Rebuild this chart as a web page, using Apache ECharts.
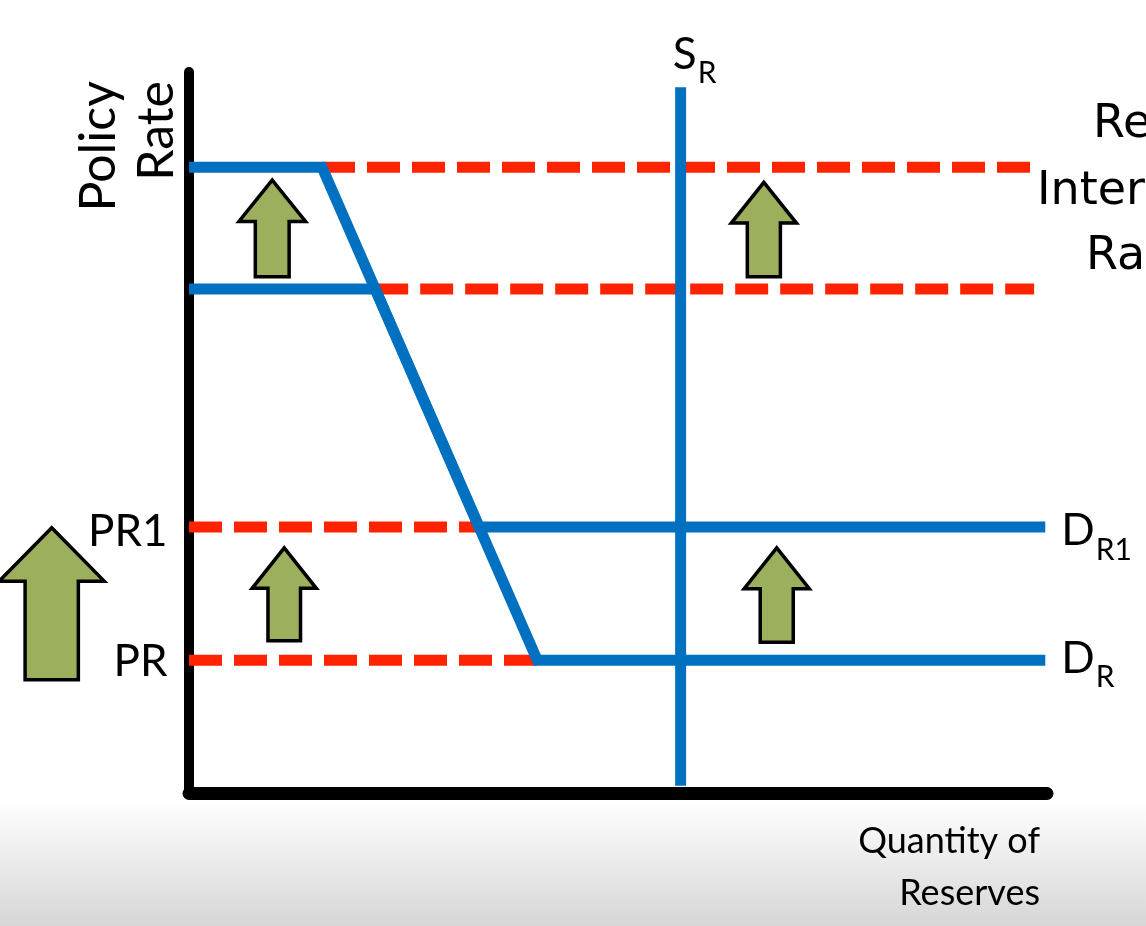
<!DOCTYPE html>
<html><head><meta charset="utf-8">
<script src="https://cdn.jsdelivr.net/npm/echarts@6/dist/echarts.min.js"></script>
<style>html,body{margin:0;padding:0;background:#fff}#c{width:1146px;height:926px}</style>
</head><body><div id="c"></div>
<script>
// ---- data (chart units: x = quantity of reserves 0..10, y = policy rate 0..10) ----
const demandR1 = [[0, 8.68], [1.55, 8.68], [3.38, 3.69], [9.98, 3.69]];
const demandR  = [[0, 6.99], [2.17, 6.99], [4.06, 1.84], [9.98, 1.84]];
const supplyR  = [[5.73, 0.1], [5.73, 9.79]];
const dashUpperNew = [[1.55, 8.68], [9.85, 8.68]];
const dashUpperOld = [[2.17, 6.99], [9.85, 6.99]];
const dashPR1 = [[0, 3.69], [3.38, 3.69]];
const dashPR  = [[0, 1.84], [4.06, 1.84]];
// arrows: [x, yBase, yTip]
const arrows = [[0.97, 7.16, 8.50], [6.70, 7.16, 8.47], [1.11, 2.11, 3.40], [6.85, 2.09, 3.40], [-1.60, 1.57, 3.68]];
const rateLabels = ['PR1', 'PR'];
const demandLabels = [['D', 'R1'], ['D', 'R']];
const supplyLabel = ['S', 'R'];
const yAxisTitle = 'Policy\nRate';
const xAxisTitle = 'Quantity of\nReserves';
const sideTitle = ['Real', 'Interest', 'Rate'];

const BLUE = '#0070C0', RED = '#FF2300', FONT = 'Lato';
const chart = echarts.init(document.getElementById('c'));

const hiddenSymbol = { symbol: 'circle', symbolSize: 1, itemStyle: { color: 'rgba(0,0,0,0)' } };

function dashSeries(data, label, dy) {
  return Object.assign({
    type: 'line', data, z: 2, animation: false,
    lineStyle: { color: RED, width: 11, type: [33, 12], cap: 'butt' },
    label: label ? {
      show: true, position: 'left', distance: 21, offset: [0, dy || 0], color: '#000',
      fontFamily: FONT, fontSize: 44,
      formatter: p => p.dataIndex === 0 ? label : ''
    } : { show: false }
  }, hiddenSymbol);
}
const subRich = {
  a: { fontFamily: FONT, fontSize: 44, color: '#000', verticalAlign: 'bottom', padding: [0, 0, 12, 0] },
  b: { fontFamily: FONT, fontSize: 30, color: '#000', verticalAlign: 'bottom', padding: [0, 0, 0, 1] }
};
function blueSeries(data, lbl, dy) {
  return {
    type: 'line', data, symbol: 'none', z: 3, animation: false,
    lineStyle: { color: BLUE, width: 11, cap: 'butt', join: 'miter' },
    endLabel: lbl ? { show: true, distance: 16, formatter: '{a|' + lbl[0] + '}{b|' + lbl[1] + '}', rich: subRich, offset: [0, dy] } : { show: false }
  };
}

const option = {
  backgroundColor: '#fff',
  animation: false,
  grid: { left: 189, right: 99, top: 72, bottom: 133 },
  xAxis: { type: 'value', min: 0, max: 10, axisLine: { lineStyle: { color: '#000', width: 13 } },
    axisTick: { show: false }, axisLabel: { show: false }, splitLine: { show: false } },
  yAxis: { type: 'value', min: 0, max: 10, axisLine: { show: true, lineStyle: { color: '#000', width: 10 } },
    axisTick: { show: false }, axisLabel: { show: false }, splitLine: { show: false } },
  graphic: [
    { type: 'rect', shape: { x: 0, y: 800, width: 1146, height: 126 }, z: -10,
      style: { fill: new echarts.graphic.LinearGradient(0, 0, 0, 1, [{ offset: 0, color: '#ffffff' }, { offset: 1, color: '#d6d6d6' }]) } },
    { type: 'text', x: 128, y: 81, rotation: Math.PI / 2,
      style: { text: yAxisTitle, align: 'right', verticalAlign: 'middle', fontFamily: FONT, fontSize: 50, lineHeight: 58, fill: '#000' } },
    { type: 'text', x: 1040, y: 867,
      style: { text: xAxisTitle, align: 'right', verticalAlign: 'middle', fontFamily: FONT, fontSize: 36, lineHeight: 52, fill: '#000' } },
    { type: 'text', x: 1093, y: 125, style: { text: sideTitle[0], align: 'left', verticalAlign: 'middle', fontFamily: 'DejaVu Sans', fontSize: 46, fill: '#000' } },
    { type: 'text', x: 1037, y: 192, style: { text: sideTitle[1], align: 'left', verticalAlign: 'middle', fontFamily: 'DejaVu Sans', fontSize: 46, fill: '#000' } },
    { type: 'text', x: 1086, y: 257, style: { text: sideTitle[2], align: 'left', verticalAlign: 'middle', fontFamily: 'DejaVu Sans', fontSize: 46, fill: '#000' } }
  ],
  series: [
    dashSeries(dashUpperNew), dashSeries(dashUpperOld),
    dashSeries(dashPR1, rateLabels[0], 5), dashSeries(dashPR, rateLabels[1], 1),
    blueSeries(demandR1, demandLabels[0], 10), blueSeries(demandR, demandLabels[1], 4),
    Object.assign({
      type: 'line', data: supplyR, z: 3, animation: false,
      lineStyle: { color: BLUE, width: 11, cap: 'butt' },
      label: { show: true, position: 'top', distance: 4, offset: [14, 6], rich: subRich,
        formatter: p => p.dataIndex === 1 ? '{a|' + supplyLabel[0] + '}{b|' + supplyLabel[1] + '}' : '' }
    }, hiddenSymbol),
    {
      type: 'custom', data: arrows, clip: false, z: 4, animation: false,
      renderItem: (params, api) => {
        const tip = api.coord([api.value(0), api.value(2)]);
        const base = api.coord([api.value(0), api.value(1)]);
        const len = base[1] - tip[1], cx = tip[0];
        const hw = len * 0.345, sw = len * 0.175, hh = 20 + len * 0.22;
        const ty = tip[1], hy = tip[1] + hh, by = base[1];
        return { type: 'polygon',
          shape: { points: [[cx, ty], [cx + hw, hy], [cx + sw, hy], [cx + sw, by], [cx - sw, by], [cx - sw, hy], [cx - hw, hy]] },
          style: { fill: '#9BAF5C', stroke: '#000', lineWidth: 3.5, lineJoin: 'miter' } };
      }
    }
  ]
};
chart.setOption(option);
</script></body></html>
